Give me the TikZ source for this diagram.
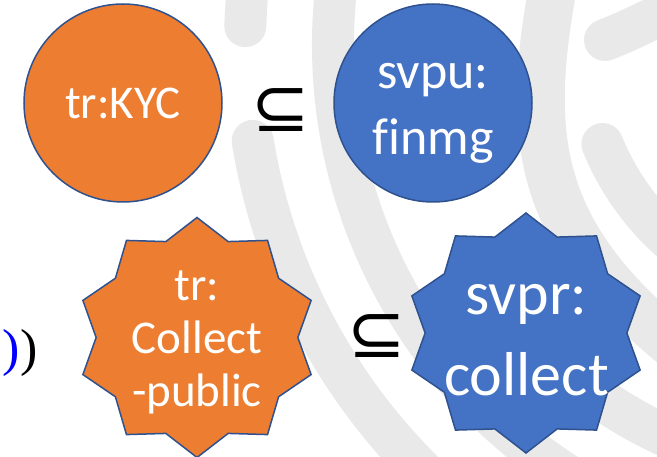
\documentclass[tikz,border=0pt]{standalone}
\usepackage{fontspec}
\setmainfont[Ligatures=NoCommon]{Carlito}
\newfontfamily\symbfont{DejaVu Sans}
\newfontfamily\parenfont{Liberation Serif}
\usetikzlibrary{shapes.geometric}
\definecolor{officeorange}{HTML}{ED7D31}
\definecolor{officeblue}{HTML}{4472C4}
\definecolor{rimblue}{HTML}{2F528F}
\definecolor{markgray}{HTML}{E9E9E9}

\begin{document}
\begin{tikzpicture}[x=1pt, y=-1pt,
  disc/.style = {draw=rimblue, line width=1.5pt, circle, minimum size=198pt, inner sep=0pt},
  burst/.style = {draw=rimblue, line width=1.5pt, star, star points=10, star point ratio=1.19, minimum size=240pt, inner sep=0pt},
  txt/.style = {text=white, align=center, inner sep=0pt},
  band/.style = {draw=markgray, line width=42pt, line cap=round},
  sub/.style = {font=\symbfont\fontsize{70}{70}\selectfont, inner sep=0pt}]

\useasboundingbox (0,0) rectangle (657,457);

% watermark arcs
\begin{scope}
\clip (0,0) rectangle (657,457);
\draw[band] (845,45) ++(190:600) arc[start angle=190, end angle=181.8, radius=600];
\draw[band] (845,45) ++(170.8:600) arc[start angle=170.8, end angle=130, radius=600];
\draw[band] (845,45) ++(190:512) arc[start angle=190, end angle=115, radius=512];
\draw[band] (845,45) ++(145:430) arc[start angle=145, end angle=100, radius=430];
\draw[band, line width=48pt] (556,-30) .. controls (525,130) and (530,230) .. (680,350);
\draw[band] (845,45) ++(157.8:262) arc[start angle=157.8, end angle=110, radius=262];
\draw[band] (605,40) .. controls (625,32) .. (675,8);
\end{scope}

\node[disc, fill=officeorange] (kyc) at (123,103) {};
\node[txt, font=\fontsize{47}{57}\selectfont] (kyc-lbl) at (123,103) {tr:KYC};
\node[sub] (sub-top) at (281,110.5) {⊆};
\node[disc, fill=officeblue] (finmg) at (433,103) {};
\node[txt, font=\fontsize{52}{66}\selectfont] (finmg-lbl) at (433,113) {svpu:\\finmg};

\node[font=\parenfont\fontsize{52}{52}\selectfont, inner sep=0pt, anchor=west] (parens) at (2.5,352.5) {\textcolor{blue}{)})};
\node[burst, fill=officeorange] (collectpub) at (197,337.5) {};
\node[txt, font=\fontsize{47}{53}\selectfont] (collectpub-lbl) at (197,342.5) {tr:\\Collect\\-public};
\node[sub] (sub-bot) at (376.5,336.5) {⊆};
\node[burst, fill=officeblue] (collect) at (526,333) {};
\node[txt, font=\fontsize{62}{81}\selectfont] (collect-lbl) at (526.5,340.5) {svpr:\\collect};
\end{tikzpicture}
\end{document}
